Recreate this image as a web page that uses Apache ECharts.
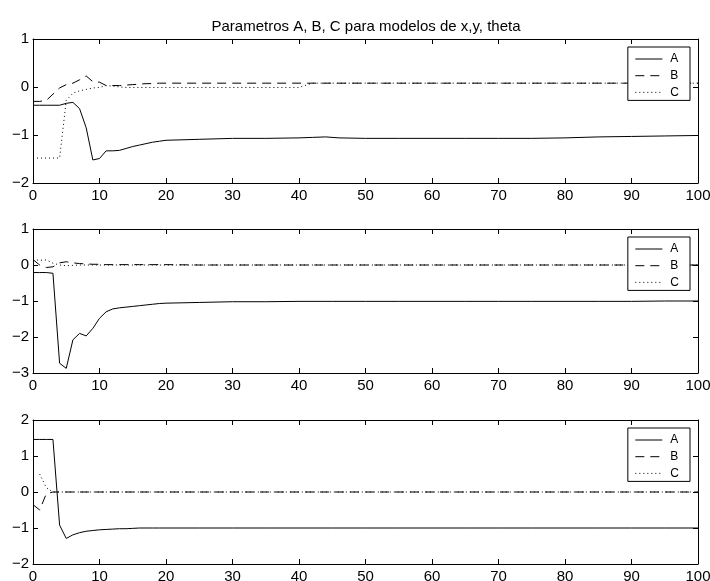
<!DOCTYPE html>
<html>
<head>
<meta charset="utf-8">
<script src="https://cdn.jsdelivr.net/npm/echarts@6/dist/echarts.min.js"></script>
<style>html,body{margin:0;padding:0;background:#fff}#c{width:710px;height:581px}</style>
</head>
<body>
<div id="c"></div>
<script>
// ---------- data ----------
const titleText = 'Parametros A, B, C para modelos de x,y, theta';
const seriesNames = ['A', 'B', 'C'];
const xTicks = [0, 10, 20, 30, 40, 50, 60, 70, 80, 90, 100];

// subplot 1
const x1 = [0,1,2,3,4,5,6,7,8,9,10,11,12,13,14,15,16,17,18,19,20,25,30,35,40,42,44,46,50,55,60,65,70,75,80,85,90,95,100];
const A1 = [-0.38,-0.38,-0.38,-0.38,-0.38,-0.34,-0.32,-0.45,-0.85,-1.52,-1.49,-1.33,-1.33,-1.32,-1.28,-1.24,-1.21,-1.18,-1.15,-1.13,-1.11,-1.09,-1.07,-1.07,-1.06,-1.05,-1.04,-1.06,-1.07,-1.07,-1.07,-1.07,-1.07,-1.07,-1.06,-1.04,-1.03,-1.02,-1.01];
const B1 = [-0.30,-0.30,-0.28,-0.15,-0.02,0.05,0.08,0.15,0.23,0.11,0.10,0.03,0.03,0.03,0.04,0.05,0.06,0.07,0.07,0.08,0.08,0.08,0.08,0.08,0.08,0.08,0.08,0.08,0.08,0.08,0.08,0.08,0.08,0.08,0.08,0.08,0.08,0.08,0.08];
const C1 = [-1.48,-1.48,-1.48,-1.48,-1.48,-0.28,-0.13,-0.08,-0.05,-0.02,-0.01,0.03,0.02,0.00,-0.01,-0.01,-0.01,-0.01,-0.01,-0.01,-0.01,-0.01,-0.01,-0.01,-0.01,0.08,0.08,0.08,0.08,0.08,0.08,0.08,0.08,0.08,0.08,0.08,0.08,0.08,0.08];

// subplot 2
const x2 = [0,1,2,3,4,5,6,7,8,9,10,11,12,13,14,15,16,17,18,19,20,25,30,35,40,45,50,55,60,65,70,75,80,85,90,95,100];
const A2 = [-0.21,-0.21,-0.21,-0.23,-2.73,-2.87,-2.08,-1.90,-1.97,-1.76,-1.48,-1.30,-1.22,-1.19,-1.17,-1.15,-1.13,-1.11,-1.09,-1.07,-1.06,-1.04,-1.02,-1.02,-1.01,-1.01,-1.01,-1.01,-1.01,-1.01,-1.01,-1.01,-1.01,-1.01,-1.01,-1.00,-1.00];
const B2 = [0.15,0.00,-0.07,-0.05,0.06,0.09,0.06,0.04,0.03,0.02,0.02,0.01,0.01,0.01,0.01,0.01,0.01,0.01,0.01,0.01,0.01,0.00,0.00,0.00,0.00,0.00,0.00,0.00,0.00,0.00,0.00,0.00,0.00,0.00,0.00,0.00,0.00];
const C2 = [0.15,0.13,0.14,0.05,0.00,-0.02,-0.01,0.00,0.00,0.00,0.00,0.00,0.00,0.00,0.00,0.00,0.00,0.00,0.00,0.00,0.00,0.00,0.00,0.00,0.00,0.00,0.00,0.00,0.00,0.00,0.00,0.00,0.00,0.00,0.00,0.00,0.00];

// subplot 3
const x3 = [0,1,2,3,4,5,6,7,8,9,10,11,12,13,14,15,16,17,18,19,20,25,30,35,40,45,50,55,60,65,70,75,80,85,90,95,100];
const A3 = [1.46,1.46,1.46,1.46,-0.92,-1.29,-1.19,-1.13,-1.09,-1.07,-1.05,-1.04,-1.03,-1.02,-1.02,-1.01,-1.00,-1.00,-1.00,-1.00,-1.00,-1.00,-1.00,-1.00,-1.00,-1.00,-1.00,-1.00,-1.00,-1.00,-1.00,-1.00,-1.00,-1.00,-1.00,-1.00,-1.00];
const B3 = [-0.35,-0.50,-0.05,0.00,0.00,0.00,0.00,0.00,0.00,0.00,0.00,0.00,0.00,0.00,0.00,0.00,0.00,0.00,0.00,0.00,0.00,0.00,0.00,0.00,0.00,0.00,0.00,0.00,0.00,0.00,0.00,0.00,0.00,0.00,0.00,0.00,0.00];
const C3 = [null,0.50,0.12,0.00,0.00,0.00,0.00,0.00,0.00,0.00,0.00,0.00,0.00,0.00,0.00,0.00,0.00,0.00,0.00,0.00,0.00,0.00,0.00,0.00,0.00,0.00,0.00,0.00,0.00,0.00,0.00,0.00,0.00,0.00,0.00,0.00,0.00];

const yRanges = [[-2, 1], [-3, 1], [-2, 2]];

// ---------- chart ----------
const FONT = 'Liberation Sans, Arial, Helvetica, sans-serif';
const gridTops = [39, 229, 420];
const gridH = 144;
const plots = [
  {x: x1, ys: [A1, B1, C1]},
  {x: x2, ys: [A2, B2, C2]},
  {x: x3, ys: [A3, B3, C3]}
];
const lineTypes = ['solid', [9, 6], [1, 3]];
const minus = v => String(v).replace('-', '\u2212');

const grid = [], xAxis = [], yAxis = [], series = [], legend = [];
plots.forEach((p, i) => {
  grid.push({left: 33, right: 12, top: gridTops[i], height: gridH, show: false,
    containLabel: false, outerBoundsMode: 'none'});
  const baseAx = {
    gridIndex: i, type: 'value', min: 0, max: 100, interval: 10,
    axisLine: {show: true, onZero: false, lineStyle: {color: '#000', width: 1}},
    axisTick: {show: true, inside: true, length: 5, lineStyle: {color: '#000', width: 1}},
    splitLine: {show: false}
  };
  xAxis.push(Object.assign({}, baseAx, {position: 'bottom',
    axisLabel: {show: true, color: '#000', fontSize: 15, fontFamily: FONT, margin: 5,
      hideOverlap: false, formatter: v => xTicks.includes(v) ? String(v) : ''}}));
  xAxis.push(Object.assign({}, baseAx, {position: 'top', axisLabel: {show: false}}));
  const yb = {
    gridIndex: i, type: 'value', min: yRanges[i][0], max: yRanges[i][1], interval: 1,
    axisLine: {show: true, onZero: false, lineStyle: {color: '#000', width: 1}},
    axisTick: {show: true, inside: true, length: 5, lineStyle: {color: '#000', width: 1}},
    splitLine: {show: false}
  };
  yAxis.push(Object.assign({}, yb, {position: 'left',
    axisLabel: {show: true, color: '#000', fontSize: 15, fontFamily: FONT, margin: 4, formatter: minus}}));
  yAxis.push(Object.assign({}, yb, {position: 'right', axisLabel: {show: false}}));
  p.ys.forEach((vals, k) => {
    series.push({
      type: 'line', name: seriesNames[k], xAxisIndex: 2 * i, yAxisIndex: 2 * i,
      data: p.x.map((xv, j) => [xv, vals[j]]),
      showSymbol: false, symbol: 'none', connectNulls: false,
      lineStyle: {color: '#000', width: 1, type: lineTypes[k]},
      itemStyle: {color: '#000'},
      emphasis: {disabled: true}, silent: true, z: 2
    });
  });
  legend.push({
    data: seriesNames, orient: 'vertical', right: 20, top: gridTops[i] + 8,
    itemWidth: 27, itemHeight: 12, itemGap: 4.7,
    padding: [6, 11, 2, 7], selectedMode: false,
    backgroundColor: '#fff', borderColor: '#000', borderWidth: 1, borderRadius: 0,
    itemStyle: {opacity: 0},
    lineStyle: {width: 1, color: '#000'},
    textStyle: {color: '#000', fontSize: 12, fontFamily: FONT, padding: [0, 0, 0, 3]},
    z: 10
  });
});

const chart = echarts.init(document.getElementById('c'), null, {renderer: 'canvas'});
chart.setOption({
  animation: false,
  backgroundColor: '#fff',
  title: {text: titleText, left: 361, top: 14, textAlign: 'center',
    textStyle: {color: '#000', fontSize: 15, fontWeight: 'normal', fontFamily: FONT}},
  grid, xAxis, yAxis, series, legend
});
</script>
</body>
</html>
